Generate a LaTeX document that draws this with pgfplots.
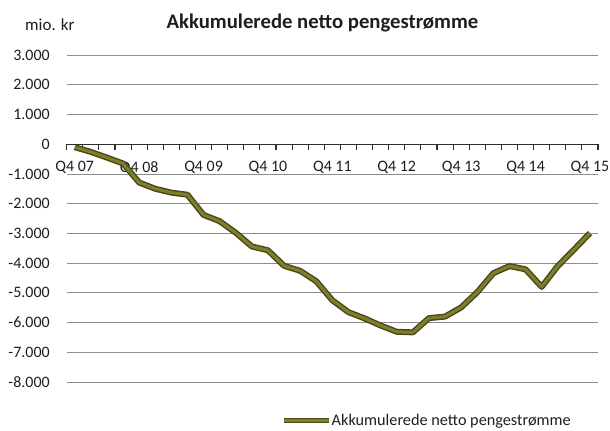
\documentclass[border=0pt]{standalone}
\usepackage{pgfplots}
\usepackage{pgfplotstable}
\pgfplotsset{compat=1.18}
\usepackage{fontspec}
\setmainfont{Carlito}
\definecolor{gridc}{HTML}{8C8C8C}
\definecolor{zeroc}{HTML}{2E2E2E}
\definecolor{olvdark}{HTML}{4A4A16}
\definecolor{olvfill}{HTML}{7E7E2E}
\definecolor{txt}{HTML}{1E1E1E}
\pgfplotstableread{
k v
0 -100
1 -260
2 -450
3 -650
4 -1290
5 -1500
6 -1630
7 -1700
8 -2380
9 -2590
10 -2980
11 -3440
12 -3570
13 -4090
14 -4260
15 -4610
16 -5250
17 -5650
18 -5860
19 -6100
20 -6310
21 -6330
22 -5850
23 -5800
24 -5490
25 -4980
26 -4340
27 -4100
28 -4210
29 -4800
30 -4100
31 -3550
32 -2990
}\datatable
\begin{document}
\begin{tikzpicture}[x=1bp,y=1bp]
\useasboundingbox (0,0) rectangle (610,430);
\node[font=\bfseries\fontsize{20.8}{24}\selectfont, text=txt, anchor=base, inner sep=0pt] at (322.5,401) {Akkumulerede netto pengestrømme};
\node[font=\fontsize{17}{20}\selectfont, text=txt, anchor=base west, inner sep=0pt] at (25,399) {mio. kr};
\begin{axis}[
  at={(66.7bp,48bp)}, anchor=south west,
  scale only axis, width=531.3bp, height=327bp,
  xmin=-0.5, xmax=32.5, ymin=-8000, ymax=3000,
  clip=false,
  axis x line=middle, axis y line=left,
  x axis line style={draw=zeroc, line width=1.2bp, -},
  y axis line style={draw=none, -},
  xtick={0,4,...,32},
  xticklabels={Q4 07,Q4 08,Q4 09,Q4 10,Q4 11,Q4 12,Q4 13,Q4 14,Q4 15},
  xticklabel style={anchor=north, inner sep=0pt, yshift=-15bp},
  major x tick style={draw=none},
  ytick={-8000,-7000,...,3000},
  yticklabels={-8.000,-7.000,-6.000,-5.000,-4.000,-3.000,-2.000,-1.000,0,1.000,2.000,3.000},
  ytick style={draw=none},
  ymajorgrids, grid style={draw=gridc, line width=0.8bp},
  tick label style={font=\fontsize{16}{19}\selectfont, text=txt},
  yticklabel style={anchor=east, inner sep=0pt, xshift=-14.7bp},
  legend style={draw=none, fill=none, at={(axis description cs:0.4047,-0.138)}, anchor=south west,
    inner sep=0pt, outer sep=0pt, font=\fontsize{16.3}{19}\selectfont, text=txt,
    nodes={inner sep=0pt}, /tikz/every even column/.append style={column sep=0pt}},
  legend image code/.code={\draw[olvdark, line width=5bp] (-3bp,0bp) -- (42bp,0bp); \draw[olvfill, line width=2.5bp] (-3bp,0bp) -- (42bp,0bp);},
]
\pgfplotsinvokeforeach{0,...,33}{
  \draw[zeroc, line width=1.1bp] (axis cs:#1-0.5,0) -- ++(0bp,-6bp);
}
\addplot[olvdark, line width=6bp, line join=round, forget plot] table[x=k, y=v] {\datatable};
\addplot[olvfill, line width=3bp, line join=round] table[x=k, y=v] {\datatable};
\addlegendentry{Akkumulerede netto pengestrømme}
\end{axis}
\end{tikzpicture}
\end{document}
